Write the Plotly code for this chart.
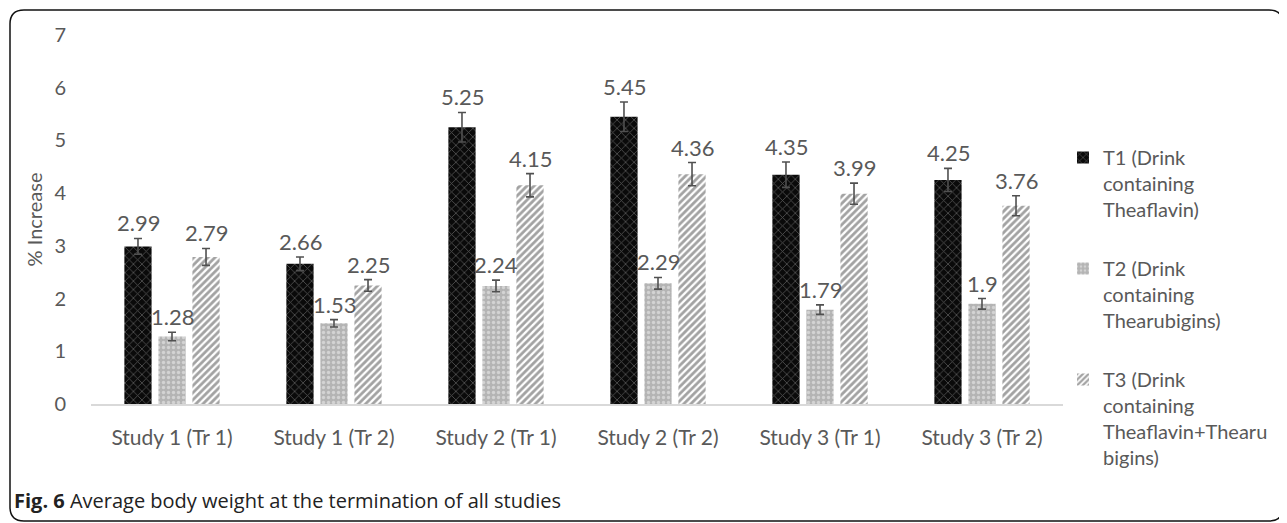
import plotly.graph_objects as go

categories = ["Study 1 (Tr 1)", "Study 1 (Tr 2)", "Study 2 (Tr 1)",
              "Study 2 (Tr 2)", "Study 3 (Tr 1)", "Study 3 (Tr 2)"]
t1_values = [2.99, 2.66, 5.25, 5.45, 4.35, 4.25]
t2_values = [1.28, 1.53, 2.24, 2.29, 1.79, 1.90]
t3_values = [2.79, 2.25, 4.15, 4.36, 3.99, 3.76]
t1_err = [0.15, 0.13, 0.28, 0.28, 0.24, 0.22]
t2_err = [0.08, 0.07, 0.11, 0.11, 0.09, 0.10]
t3_err = [0.16, 0.11, 0.22, 0.22, 0.20, 0.19]
series_names = ["T1 (Drink<br>containing<br>Theaflavin)",
                "T2 (Drink<br>containing<br>Thearubigins)",
                "T3 (Drink<br>containing<br>Theaflavin+Thearu<br>bigins)"]
caption = "<b>Fig. 6</b> Average body weight at the termination of all studies"
y_title = "% Increase"

OFF = 8  # page body margin
W, H = 1287 - OFF, 523 - OFF
# plot area in screen pixels: x 91..1063, y 35..404
ML = 91 - OFF
MT = 35 - OFF
MR = W - (1063 - OFF)
MB = H - (404 - OFF)
PW, PH = W - ML - MR, H - MT - MB


def px_x(px):
    return (px - OFF - ML) / PW


def px_y(py):
    return (H - MB - (py - OFF)) / PH


FONT = "Lato"
GRAY = "#595959"

patterns = [
    dict(shape="x", bgcolor="#0a0a0a", fgcolor="#a0a0a0", size=6, solidity=0.25),
    dict(shape=".", bgcolor="#b4b4b4", fgcolor="#f2f2f2", size=5, solidity=0.35),
    dict(shape="/", bgcolor="#ffffff", fgcolor="#454545", size=5, solidity=0.55),
]
values = [t1_values, t2_values, t3_values]
errors = [t1_err, t2_err, t3_err]

fig = go.Figure()
for i in range(3):
    fig.add_trace(go.Bar(
        x=categories, y=values[i], name=series_names[i],
        legendgroup=f"g{i}",
        marker=dict(color=patterns[i]["bgcolor"], pattern=patterns[i],
                    line=dict(width=0)),
        error_y=dict(type="data", array=errors[i], color="#505050",
                     thickness=1.6, width=4),
    ))

annotations = []
slot = 34
for i in range(3):
    for c, v, e in zip(categories, values[i], errors[i]):
        annotations.append(dict(
            x=c, y=v + e, xref="x", yref="y", text=f"{v:g}",
            showarrow=False, yanchor="bottom", xshift=(i - 1) * slot, yshift=0,
            font=dict(family=FONT, size=22, color=GRAY)))

annotations.append(dict(
    x=px_x(12), y=px_y(500), xref="paper", yref="paper", text=caption,
    showarrow=False, xanchor="left", yanchor="middle",
    font=dict(family="Open Sans", size=20, color="#222222")))

# rounded frame (screen pixel coords)
x0, y0, x1, y1, r = 10, 10, 1283, 521, 14
path = (f"M {px_x(x0 + r)},{px_y(y0)} L {px_x(x1 - r)},{px_y(y0)} "
        f"Q {px_x(x1)},{px_y(y0)} {px_x(x1)},{px_y(y0 + r)} "
        f"L {px_x(x1)},{px_y(y1 - r)} Q {px_x(x1)},{px_y(y1)} {px_x(x1 - r)},{px_y(y1)} "
        f"L {px_x(x0 + r)},{px_y(y1)} Q {px_x(x0)},{px_y(y1)} {px_x(x0)},{px_y(y1 - r)} "
        f"L {px_x(x0)},{px_y(y0 + r)} Q {px_x(x0)},{px_y(y0)} {px_x(x0 + r)},{px_y(y0)} Z")

fig.update_layout(
    width=W, height=H,
    margin=dict(l=ML, r=MR, t=MT, b=MB, pad=0),
    paper_bgcolor="white", plot_bgcolor="white",
    barmode="group", bargap=0.37, bargroupgap=0.2,
    showlegend=True,
    legend=dict(x=px_x(1063), y=px_y(138), xanchor="left", yanchor="top",
                font=dict(family=FONT, size=20, color=GRAY),
                tracegroupgap=30, valign="top", itemwidth=30,
                bgcolor="rgba(0,0,0,0)"),
    xaxis=dict(showline=True, linecolor="#d9d9d9", linewidth=2, showgrid=False,
               ticks="", tickfont=dict(family=FONT, size=21, color=GRAY),
               ticklabelstandoff=14, zeroline=False),
    yaxis=dict(range=[0, 7], dtick=1, showgrid=False, showline=False, zeroline=False,
               ticks="", tickfont=dict(family=FONT, size=20, color=GRAY),
               ticklabelstandoff=24,
               title=dict(text=y_title, font=dict(family=FONT, size=20, color=GRAY),
                          standoff=6)),
    annotations=annotations,
    shapes=[dict(type="path", path=path, xref="paper", yref="paper",
                 line=dict(color="#111111", width=1.5), layer="above")],
)

fig.write_html("out.html")
